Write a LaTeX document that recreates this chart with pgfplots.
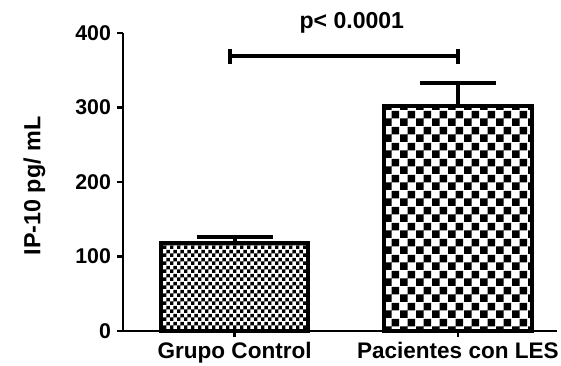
\documentclass[border=0pt]{standalone}
\usepackage{fontspec}
\setmainfont{Liberation Sans}
\usepackage{pgfplots}
\pgfplotsset{compat=1.18}
\usetikzlibrary{patterns}
\pgfdeclarepatternformonly{finechecker}{\pgfpointorigin}{\pgfqpoint{5.6pt}{5.6pt}}{\pgfqpoint{5.6pt}{5.6pt}}{%
  \pgfpathrectangle{\pgfpointorigin}{\pgfqpoint{2.8pt}{2.8pt}}%
  \pgfpathrectangle{\pgfqpoint{2.8pt}{2.8pt}}{\pgfqpoint{2.8pt}{2.8pt}}%
  \pgfusepath{fill}}
\pgfdeclarepatternformonly{coarsechecker}{\pgfpointorigin}{\pgfqpoint{12pt}{12pt}}{\pgfqpoint{12pt}{12pt}}{%
  \pgfpathrectangle{\pgfpointorigin}{\pgfqpoint{6pt}{6pt}}%
  \pgfpathrectangle{\pgfqpoint{6pt}{6pt}}{\pgfqpoint{6pt}{6pt}}%
  \pgfusepath{fill}}
\begin{document}
\begin{tikzpicture}
\useasboundingbox (-92.25pt,-26.25pt) rectangle (328.5pt,248.25pt);
\begin{axis}[
  at={(0,0)}, anchor=south west,
  scale only axis, width=325.5pt, height=223.5pt,
  xmin=-0.5, xmax=1.444, ymin=0, ymax=400,
  axis x line*=bottom, axis y line*=left,
  axis line style={-, line width=2pt},
  ytick={0,100,200,300,400},
  xtick={0,1}, xticklabels={Grupo Control, Pacientes con LES},
  tick align=outside, major tick length=4.5pt,
  tick style={line width=2pt, black},
  /pgf/number format/assume math mode=true,
  yticklabel={\fontsize{16}{16}\selectfont\bfseries\pgfmathprintnumber{\tick}},
  yticklabel style={xshift=-1pt},
  xticklabel style={font=\fontsize{16.9}{17}\selectfont\bfseries},
  ylabel={IP-10 pg/ mL},
  every axis y label/.style={at={(rel axis cs:0,0.5)}, xshift=-66.4pt, yshift=-3pt, rotate=90, anchor=center,
     font=\fontsize{17.5}{17}\selectfont\bfseries},
  ybar, bar width=0.66, bar shift=0pt,
  clip=false,
]
\addplot[draw=black, line width=3pt, pattern=finechecker, pattern color=black,
  error bars/.cd, y dir=plus, y explicit,
  error bar style={line width=3pt, black},
  error mark options={rotate=90, mark size=28.5pt, line width=3pt, black}]
  coordinates {(0,118.5) +- (0,8)};
\addplot[draw=black, line width=3pt, pattern=coarsechecker, pattern color=black,
  error bars/.cd, y dir=plus, y explicit,
  error bar style={line width=3pt, black},
  error mark options={rotate=90, mark size=28.5pt, line width=3pt, black}]
  coordinates {(1,302) +- (0,30.5)};
\draw[line width=3pt] (axis cs:-0.02,369) -- (axis cs:1.0,369);
\draw[line width=3pt] (axis cs:-0.02,359) -- (axis cs:-0.02,379);
\draw[line width=3pt] (axis cs:1.0,359) -- (axis cs:1.0,379);
\node[anchor=base, font=\fontsize{17.3}{17}\selectfont\bfseries] at (axis cs:0.525,406) {p< 0.0001};
\end{axis}
\end{tikzpicture}
\end{document}
